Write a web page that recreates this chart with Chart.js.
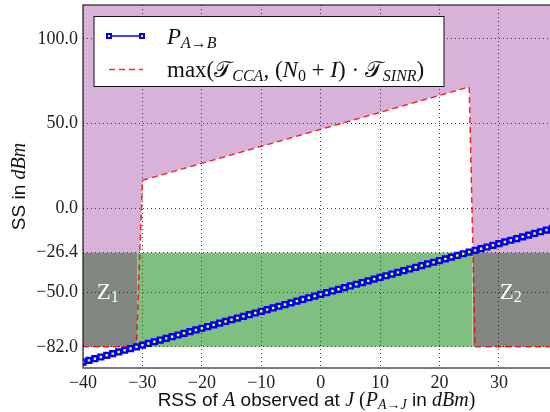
<!DOCTYPE html>
<html>
<head>
<meta charset="utf-8">
<script src="https://cdn.jsdelivr.net/npm/chart.js@4.4.1/dist/chart.umd.min.js"></script>
<style>
  body { margin: 0; background: #fff; }
  canvas { display: block; }
</style>
</head>
<body>
<canvas id="ssChart" width="550" height="412"></canvas>
<script>
// RSS of A at J (dBm), one marker per dB
const rssX = [-40, -39, -38, -37, -36, -35, -34, -33, -32, -31, -30, -29, -28, -27, -26, -25, -24, -23, -22, -21,
  -20, -19, -18, -17, -16, -15, -14, -13, -12, -11, -10, -9, -8, -7, -6, -5, -4, -3, -2, -1,
  0, 1, 2, 3, 4, 5, 6, 7, 8, 9, 10, 11, 12, 13, 14, 15, 16, 17, 18, 19,
  20, 21, 22, 23, 24, 25, 26, 27, 28, 29, 30, 31, 32, 33, 34, 35, 36, 37, 38, 39];
// P_A->B
const pAB = [-91, -90, -89, -88, -87, -86, -85, -84, -83, -82, -81, -80, -79, -78, -77, -76, -75, -74, -73, -72,
  -71, -70, -69, -68, -67, -66, -65, -64, -63, -62, -61, -60, -59, -58, -57, -56, -55, -54, -53, -52,
  -51, -50, -49, -48, -47, -46, -45, -44, -43, -42, -41, -40, -39, -38, -37, -36, -35, -34, -33, -32,
  -31, -30, -29, -28, -27, -26, -25, -24, -23, -22, -21, -20, -19, -18, -17, -16, -15, -14, -13, -12];

// red dashed threshold, corner points
const thrX = [-40, -31, -30, 25, 26, 38.6];
const thrY = [-82, -82, 16.4, 71.6, -82, -82];

// lower edge of the purple zone
const purpleX = [-40, -30.43, -30, 25, 25.64, 38.6];
const purpleY = [-26.4, -26.4, 16.4, 71.6, -26.4, -26.4];

const zoneTop = -26.4;
const zoneBottom = -82;
const z1Range = [-40, -30.9];
const greenRange = [-30.9, 25.6];
const z2Range = [25.6, 38.6];

const xTicks = [-40, -30, -20, -10, 0, 10, 20, 30];
const yTicks = [-82, -50, -26.4, 0, 50, 100];

const pts = (xs, ys) => xs.map((x, i) => ({ x: x, y: ys[i] }));
const minus = s => s.replace('-', '\u2212');

const SERIF = '"Liberation Serif", "DejaVu Serif", serif';
const SANS = '"Liberation Sans", Arial, sans-serif';

// draws a run of text pieces, each {t, f, dy}
function drawRun(ctx, parts, x, y) {
  parts.forEach(p => {
    ctx.font = p.f;
    ctx.fillText(p.t, x, y + (p.dy || 0));
    x += ctx.measureText(p.t).width;
  });
  return x;
}
function runWidth(ctx, parts) {
  let w = 0;
  parts.forEach(p => { ctx.font = p.f; w += ctx.measureText(p.t).width; });
  return w;
}

const big = '23px ' + SERIF, bigI = 'italic 23px ' + SERIF;
const sub = '16px ' + SERIF, subI = 'italic 16px ' + SERIF;

const overlay = {
  id: 'overlay',
  afterDatasetsDraw(chart) {
    const ctx = chart.ctx;
    const a = chart.chartArea;
    const xs = chart.scales.x, ys = chart.scales.y;
    ctx.save();

    // frame
    ctx.strokeStyle = '#222';
    ctx.lineWidth = 1.2;
    ctx.strokeRect(a.left, a.top, a.right - a.left + 2, a.bottom - a.top);

    // zone labels
    ctx.fillStyle = '#fff';
    ctx.textBaseline = 'middle';
    drawRun(ctx, [{ t: 'Z', f: big }, { t: '1', f: sub, dy: 5 }], xs.getPixelForValue(-37.7), ys.getPixelForValue(-50));
    drawRun(ctx, [{ t: 'Z', f: big }, { t: '2', f: sub, dy: 5 }], xs.getPixelForValue(30.15), ys.getPixelForValue(-50));

    // legend box
    const lx = a.left + 11, ly = 16.5, lw = 350, lh = 70;
    ctx.fillStyle = '#fff';
    ctx.fillRect(lx, ly, lw, lh);
    ctx.strokeStyle = '#111';
    ctx.lineWidth = 1;
    ctx.strokeRect(lx, ly, lw, lh);

    const r1 = ly + 19.5, r2 = ly + 53;
    ctx.strokeStyle = '#0000ff';
    ctx.lineWidth = 1.5;
    ctx.beginPath(); ctx.moveTo(lx + 15, r1); ctx.lineTo(lx + 48, r1); ctx.stroke();
    [lx + 15, lx + 48].forEach(px => {
      ctx.lineWidth = 2;
      ctx.fillStyle = '#ffff00';
      ctx.fillRect(px - 2, r1 - 2, 4, 4);
      ctx.strokeRect(px - 2, r1 - 2, 4, 4);
    });
    ctx.strokeStyle = 'rgba(255,0,0,0.85)';
    ctx.lineWidth = 1.5;
    ctx.setLineDash([6, 4]);
    ctx.beginPath(); ctx.moveTo(lx + 15, r2); ctx.lineTo(lx + 49, r2); ctx.stroke();
    ctx.setLineDash([]);

    ctx.fillStyle = '#111';
    ctx.textBaseline = 'alphabetic';
    drawRun(ctx, [{ t: 'P', f: bigI }, { t: 'A\u2192B', f: subI, dy: 4 }], lx + 73, r1 + 8);
    const T = '\uD835\uDCAF';
    drawRun(ctx, [
      { t: 'max(', f: big }, { t: T, f: big }, { t: 'CCA', f: subI, dy: 4 },
      { t: ', (', f: big }, { t: 'N', f: bigI }, { t: '0', f: sub, dy: 4 },
      { t: ' + ', f: big }, { t: 'I', f: bigI }, { t: ') \u00B7 ', f: big },
      { t: T, f: big }, { t: 'SINR', f: subI, dy: 4 }, { t: ')', f: big }
    ], lx + 73, r2 + 7);

    // axis titles
    const s16 = '19px ' + SANS, i16 = 'italic 20px ' + SERIF, r16 = '20px ' + SERIF, i12 = 'italic 14px ' + SERIF;
    const xt = [
      { t: 'RSS of ', f: s16 }, { t: 'A', f: i16 }, { t: ' observed at ', f: s16 }, { t: 'J', f: i16 },
      { t: ' (', f: r16 }, { t: 'P', f: i16 }, { t: 'A\u2192J', f: i12, dy: 3 }, { t: ' in ', f: s16 },
      { t: 'dBm', f: i16 }, { t: ')', f: r16 }
    ];
    const cx = (a.left + a.right) / 2;
    drawRun(ctx, xt, cx - runWidth(ctx, xt) / 2, 406);

    const yt = [{ t: 'SS in ', f: s16 }, { t: 'dBm', f: i16 }];
    ctx.translate(25, (a.top + a.bottom) / 2);
    ctx.rotate(-Math.PI / 2);
    drawRun(ctx, yt, -runWidth(ctx, yt) / 2, 0);
    ctx.restore();
  }
};

const zoneFill = (range, color) => ({
  data: pts(range, [zoneTop, zoneTop]),
  showLine: true,
  borderWidth: 0,
  pointRadius: 0,
  backgroundColor: color,
  fill: { value: zoneBottom }
});

new Chart(document.getElementById('ssChart').getContext('2d'), {
  type: 'scatter',
  data: {
    datasets: [
      {
        label: 'P_A->B',
        data: pts(rssX, pAB),
        showLine: true,
        borderColor: '#0000ff',
        borderWidth: 1.5,
        pointStyle: 'rect',
        pointRadius: 3.4,
        pointBorderWidth: 2.4,
        pointBorderColor: '#0000ff',
        pointBackgroundColor: '#ffff00'
      },
      {
        label: 'threshold',
        data: pts(thrX, thrY),
        showLine: true,
        borderColor: 'rgba(255,0,0,0.85)',
        borderWidth: 1.5,
        borderDash: [6, 4],
        pointRadius: 0
      },
      zoneFill(z1Range, 'rgba(0,10,0,0.49)'),
      zoneFill(z2Range, 'rgba(0,10,0,0.49)'),
      zoneFill(greenRange, 'rgba(0,128,0,0.5)'),
      {
        label: 'purple',
        data: pts(purpleX, purpleY),
        showLine: true,
        borderWidth: 0,
        pointRadius: 0,
        backgroundColor: 'rgba(128,0,128,0.3)',
        fill: 'end'
      }
    ]
  },
  options: {
    responsive: false,
    animation: false,
    layout: { autoPadding: false, padding: { top: 5, right: 0, bottom: 0, left: 0 } },
    plugins: {
      legend: { display: false },
      tooltip: { enabled: false }
    },
    scales: {
      x: {
        type: 'linear',
        min: -40,
        max: 38.6,
        afterBuildTicks: s => { s.ticks = xTicks.map(v => ({ value: v })); },
        afterFit: s => { s.height = 44; s.paddingLeft = 0; s.paddingRight = 0; },
        ticks: {
          padding: 4,
          color: '#222',
          font: { family: SERIF, size: 18 },
          callback: v => minus(String(v))
        },
        grid: { color: 'rgba(0,0,0,0.75)', lineWidth: 1, drawTicks: false },
        border: { display: false, dash: [1, 3] }
      },
      y: {
        min: -94.5,
        max: 120,
        afterBuildTicks: s => { s.ticks = yTicks.map(v => ({ value: v })); },
        afterFit: s => { s.width = 83; s.paddingTop = 0; s.paddingBottom = 0; },
        ticks: {
          padding: 5,
          color: '#222',
          font: { family: SERIF, size: 18 },
          callback: v => minus(v.toFixed(1))
        },
        grid: { color: 'rgba(0,0,0,0.75)', lineWidth: 1, drawTicks: false },
        border: { display: false, dash: [1, 3] }
      }
    }
  },
  plugins: [overlay]
});
</script>
</body>
</html>
